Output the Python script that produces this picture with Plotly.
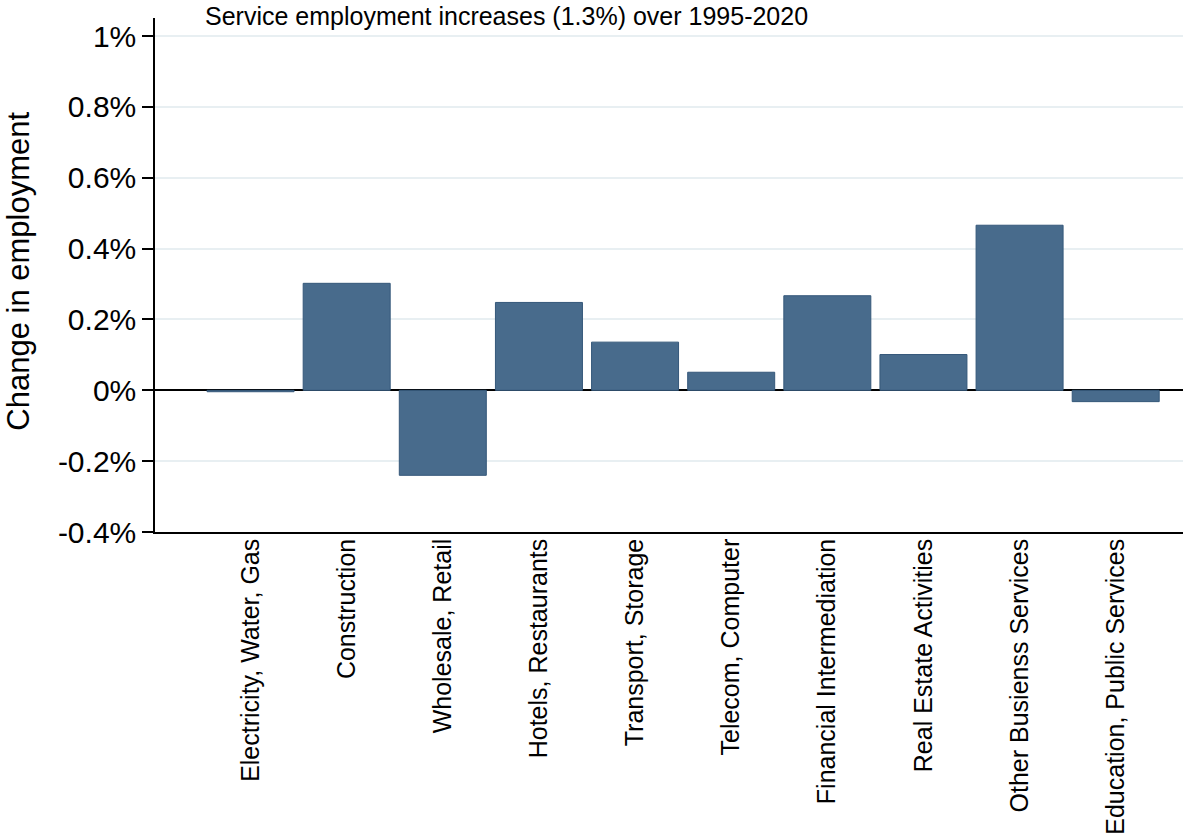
import plotly.graph_objects as go

categories = [
    "Electricity, Water, Gas",
    "Construction",
    "Wholesale, Retail",
    "Hotels, Restaurants",
    "Transport, Storage",
    "Telecom, Computer",
    "Financial Intermediation",
    "Real Estate Activities",
    "Other Busienss Services",
    "Education, Public Services",
]
values = [-0.004, 0.302, -0.240, 0.248, 0.136, 0.051, 0.267, 0.101, 0.466, -0.032]

y_ticks = [-0.4, -0.2, 0, 0.2, 0.4, 0.6, 0.8, 1.0]
y_tick_labels = ["-0.4%", "-0.2%", "0%", "0.2%", "0.4%", "0.6%", "0.8%", "1%"]

title_text = "Service employment increases (1.3%) over 1995-2020"
y_title = "Change in employment"

FONT = "Liberation Sans, Arial, sans-serif"

fig = go.Figure()
fig.add_trace(go.Bar(
    x=categories,
    y=values,
    marker=dict(color="#486b8c", line=dict(color="#35587a", width=1)),
    showlegend=False,
    hoverinfo="x+y",
))

fig.update_layout(
    width=1183,
    height=840,
    margin=dict(l=155, r=0, t=18, b=308, pad=0),
    paper_bgcolor="white",
    plot_bgcolor="white",
    bargap=0.095,
    font=dict(family=FONT, color="black"),
    xaxis=dict(
        type="category",
        automargin=False,
        range=[-0.994, 9.70],
        showgrid=False,
        zeroline=False,
        showline=True,
        linecolor="black",
        linewidth=1.5,
        ticks="",
        ticklen=0,
        tickangle=-90,
        tickfont=dict(family=FONT, size=25, color="black"),
        ticklabelstandoff=-5,
    ),
    yaxis=dict(
        automargin=False,
        range=[-0.4, 1.051],
        tickvals=y_ticks,
        ticktext=y_tick_labels,
        showgrid=True,
        gridcolor="#e8eff2",
        gridwidth=2,
        zeroline=True,
        zerolinecolor="black",
        zerolinewidth=1.5,
        showline=True,
        linecolor="black",
        linewidth=1.5,
        ticks="outside",
        ticklen=11,
        tickwidth=1.5,
        tickcolor="black",
        tickfont=dict(family=FONT, size=30, color="black"),
    ),
    annotations=[
        dict(
            text=title_text, xref="paper", yref="paper",
            x=(203 - 155) / 1028, y=1, xanchor="left", yanchor="middle",
            yshift=2, showarrow=False,
            font=dict(family=FONT, size=25, color="black"),
        ),
        dict(
            text=y_title, xref="paper", yref="paper",
            x=(19 - 155) / 1028, y=0.5065, xanchor="center", yanchor="middle",
            textangle=-90, showarrow=False,
            font=dict(family=FONT, size=31, color="black"),
        ),
    ],
)

fig.write_html(
    "out.html",
    config={"displayModeBar": False},
    post_script="document.body.style.margin='0';document.body.style.overflow='hidden';",
)
